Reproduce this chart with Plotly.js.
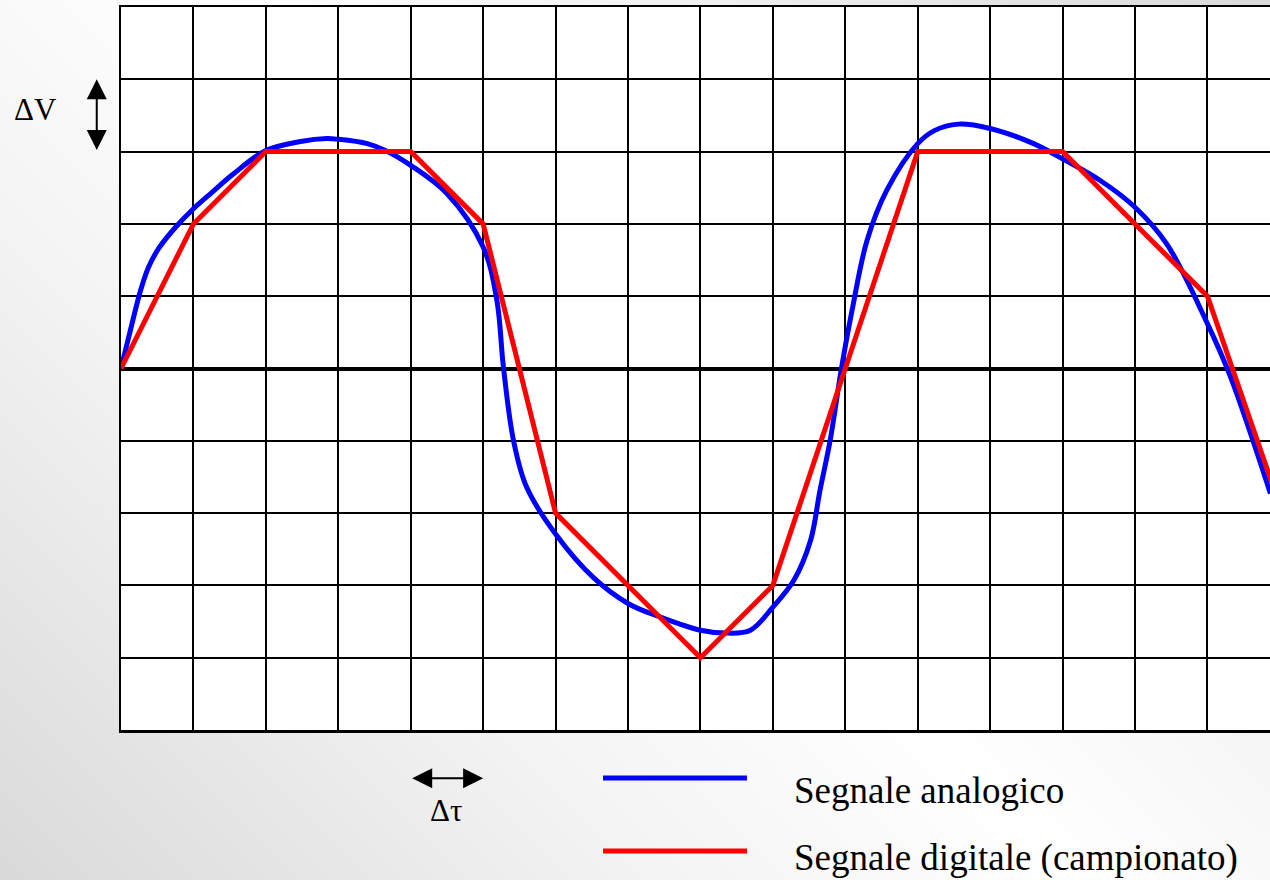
<!DOCTYPE html>
<html>
<head>
<meta charset="utf-8">
<script src="https://cdn.plot.ly/plotly-3.0.1.min.js"></script>
<style>
  html, body { margin: 0; padding: 0; }
  #chart {
    width: 1270px; height: 880px;
    background: linear-gradient(45deg, #d9d9d9 0%, #f3f3f3 30%, #ffffff 50%, #f3f3f3 70%, #d9d9d9 100%);
  }
</style>
</head>
<body>
<div id="chart"></div>
<script>
// Analog signal (blue): time in sample units, voltage in ΔV units
const analogT = [0, 0.152, 0.27, 0.38, 0.52, 0.75, 1.0, 1.26, 1.55, 2.0, 2.48, 2.84, 3.0, 3.4, 3.65, 4.0, 4.5, 5.0, 5.19, 5.28, 5.42, 5.6, 6.0, 6.52, 7.0, 7.45, 8.0, 8.37, 8.69, 9.0, 9.29, 9.52, 9.65, 9.79, 9.95, 10.11, 10.3, 10.57, 11.0, 11.23, 11.56, 12.0, 12.6, 13.0, 13.52, 14.0, 14.44, 15.0, 15.32, 15.87];
const analogV = [0, 0.62, 1.08, 1.40, 1.66, 1.95, 2.21, 2.44, 2.69, 3.015, 3.14, 3.18, 3.17, 3.11, 3.015, 2.81, 2.42, 1.68, 0.94, 0.02, -1.0, -1.64, -2.29, -2.89, -3.25, -3.44, -3.62, -3.66, -3.62, -3.30, -2.93, -2.38, -1.69, -1.0, 0.02, 0.89, 1.77, 2.46, 3.11, 3.29, 3.38, 3.32, 3.11, 2.90, 2.60, 2.23, 1.72, 0.62, -0.12, -1.73];

// Digital (sampled) signal (red)
const sampleT = [0, 1, 2, 3, 4, 5, 6, 7, 8, 9, 10, 11, 12, 13, 14, 15, 16];
const sampleV = [0, 2, 3, 3, 3, 2, -2, -3, -4, -3, 0, 3, 3, 3, 2, 1, -1.9];

const legendLabels = ["Segnale analogico", "Segnale digitale (campionato)"];
const deltaV = "\u0394V";
const deltaT = "\u0394\u03C4";

const serif = '"Liberation Serif", "Times New Roman", serif';

const traces = [
  { x: analogT, y: analogV, mode: 'lines', name: legendLabels[0],
    line: { color: '#0000ff', width: 5, shape: 'spline', smoothing: 1 } },
  { x: sampleT, y: sampleV, mode: 'lines', name: legendLabels[1],
    line: { color: '#ff0000', width: 5 } }
];

const axisCommon = {
  showgrid: true, gridcolor: '#000000', gridwidth: 2,
  dtick: 1, tick0: 0, ticks: '', showticklabels: false,
  linecolor: '#000000', linewidth: 2.5, showline: true, fixedrange: true
};

const layout = {
  width: 1270, height: 880,
  margin: { l: 121, r: 0, t: 7, b: 150 },
  paper_bgcolor: 'rgba(0,0,0,0)',
  plot_bgcolor: '#ffffff',
  showlegend: false,
  xaxis: Object.assign({}, axisCommon, { range: [0, 15.864], zeroline: false, mirror: true }),
  yaxis: Object.assign({}, axisCommon, { range: [-5, 5], zeroline: true, zerolinecolor: '#000000', zerolinewidth: 4, mirror: false }),
  shapes: [
    { type: 'line', xref: 'paper', yref: 'paper', x0: 0.4195, x1: 0.5448, y0: -0.0664, y1: -0.0664,
      line: { color: '#0000ff', width: 5 } },
    { type: 'line', xref: 'paper', yref: 'paper', x0: 0.4195, x1: 0.5448, y0: -0.1674, y1: -0.1674,
      line: { color: '#ff0000', width: 5 } }
  ],
  annotations: [
    { text: legendLabels[0], xref: 'paper', yref: 'paper', x: 0.584, y: -0.0835,
      xanchor: 'left', yanchor: 'middle', showarrow: false,
      font: { family: serif, size: 37, color: '#000000' } },
    { text: legendLabels[1], xref: 'paper', yref: 'paper', x: 0.584, y: -0.1770,
      xanchor: 'left', yanchor: 'middle', showarrow: false,
      font: { family: serif, size: 37, color: '#000000' } },
    { text: deltaV, xref: 'paper', yref: 'paper', x: -0.074, y: 0.858,
      xanchor: 'center', yanchor: 'middle', showarrow: false,
      font: { family: serif, size: 31, color: '#000000' } },
    { text: deltaT, xref: 'paper', yref: 'paper', x: 0.2829, y: -0.1120,
      xanchor: 'center', yanchor: 'middle', showarrow: false,
      font: { family: serif, size: 31, color: '#000000' } },
    // vertical double arrow (one ΔV step)
    { text: '', xref: 'paper', yref: 'y', x: -0.0211, y: 4,
      axref: 'pixel', ayref: 'y', ax: 0, ay: 3,
      showarrow: true, arrowside: 'end+start', arrowhead: 2, startarrowhead: 2,
      arrowsize: 2.0, startarrowsize: 2.0, arrowwidth: 2, arrowcolor: '#000000',
      standoff: 0, startstandoff: 0 },
    // horizontal double arrow (one Δτ step)
    { text: '', xref: 'x', yref: 'paper', x: 5, y: -0.0668,
      axref: 'x', ayref: 'pixel', ax: 4, ay: 0,
      showarrow: true, arrowside: 'end+start', arrowhead: 2, startarrowhead: 2,
      arrowsize: 2.0, startarrowsize: 2.0, arrowwidth: 2, arrowcolor: '#000000',
      standoff: 0, startstandoff: 0 }
  ]
};

Plotly.newPlot('chart', traces, layout, { staticPlot: true, displayModeBar: false });
</script>
</body>
</html>
